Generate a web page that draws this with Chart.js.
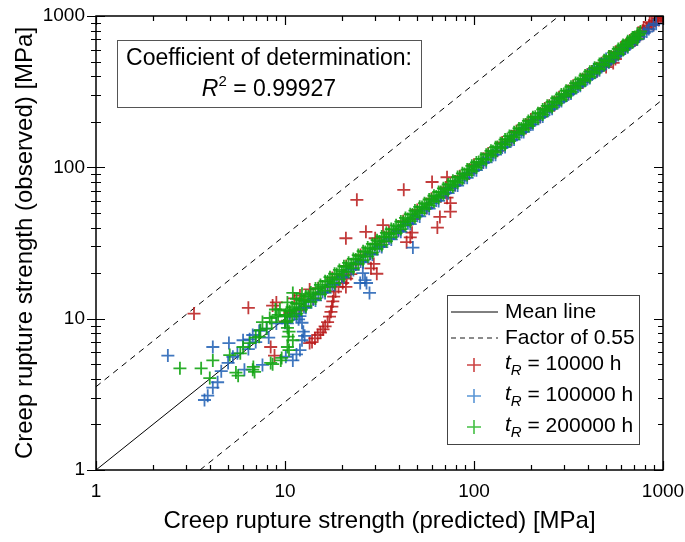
<!DOCTYPE html>
<html>
<head>
<meta charset="utf-8">
<script src="https://cdn.jsdelivr.net/npm/chart.js@4.4.1/dist/chart.umd.min.js"></script>
<style>
  html, body { margin: 0; padding: 0; background: #fff; }
</style>
</head>
<body>
<canvas id="myChart" width="685" height="542"></canvas>
<script>
// axis ticks
const tickValues = [1, 10, 100, 1000];

// reference lines (predicted, observed)
const meanLine = [[1, 1], [1000, 1000]];
const upperFactor = [[1, 3.55], [281.8, 1000]];
const lowerFactor = [[3.55, 1], [1000, 281.8]];

// series labels (rupture time, h)
const seriesTimes = ["10000", "100000", "200000"];

// t_R = 10000 h  [predicted, observed]
const red10000 = [
  [10, 9.6], [10.6, 10.9], [11.2, 13.6], [11.9, 11.3], [12, 14.2], [12.6, 13.2], [13.5, 15.6], [14.1, 13.6],
  [15, 15.9], [16.8, 16.1], [17.8, 18.6], [20, 19.2], [21.1, 22.3], [23.7, 22.8], [25.1, 26.3], [28.2, 27.0],
  [29.9, 31.2], [33.5, 32.3], [35.5, 37.2], [39.8, 38.4], [42.2, 44.1], [47.3, 45.5], [50.1, 52.3], [56.2, 54.0],
  [59.6, 62.0], [66.8, 64.5], [70.8, 73.6], [79.4, 76.6], [84.1, 87.4], [94.4, 91.2], [100, 104], [112, 108],
  [119, 123.5], [133, 128.5], [141, 146], [158, 153], [168, 174], [188, 182], [200, 207], [224, 216],
  [237, 245], [266, 257], [282, 291], [316, 306], [335, 346], [376, 364], [398, 411], [447, 432],
  [473, 488], [531, 514], [562, 580], [631, 612], [668, 688], [708, 690], [750, 772], [794, 780],
  [841, 862], [891, 875], [944, 965], [975, 985], [1000, 1000],
  [560, 545], [600, 590], [640, 650], [700, 715], [740, 730], [780, 800], [820, 830], [870, 890],
  [910, 930], [950, 940], [990, 1000], [720, 700], [660, 650], [600, 620], [520, 510], [480, 470],
  [420, 430], [380, 375], [300, 295], [250, 255],
  [3.3, 10.8], [6.4, 11.8], [9.0, 12.8], [8.6, 12.2], [8.4, 6.5], [8.8, 5.7],
  [13.5, 6.9], [13.9, 7.0], [14.4, 7.4], [14.9, 7.8], [15.4, 8.1], [15.9, 8.5], [16.3, 8.9], [16.8, 9.5],
  [17.2, 10.3], [17.5, 11.1], [17.7, 12.0], [17.9, 13.0], [18.1, 14.0], [18.5, 15.1], [19.2, 16.2], [20.2, 17.2],
  [21.2, 18.4], [22.3, 19.7],
  [21, 16.2], [28.5, 21.5], [30.6, 19.8], [29.5, 23], [21, 34], [24, 61], [26.8, 37.5], [30, 34],
  [33, 41.5], [42.5, 71], [44, 32], [46, 34.5], [47, 37], [60, 80], [64, 40], [66, 47],
  [72, 63], [75, 58], [75, 51], [72, 86],
  [450, 440], [500, 460], [545, 490], [560, 520], [520, 540], [930, 990], [850, 910], [790, 840]
];

// t_R = 100000 h
const blue100000 = [
  [10, 9.4], [10.6, 10.3], [11.2, 10.7], [11.9, 11.6], [12.6, 11.9], [13.3, 12.9], [14.1, 13.4], [15, 14.5],
  [15.8, 15.0], [16.8, 16.3], [17.8, 16.9], [18.8, 18.2], [20, 19.0], [21.1, 20.4], [22.4, 21.3], [23.7, 23.0],
  [25.1, 23.9], [26.6, 25.8], [28.2, 26.9], [29.9, 29.0], [31.6, 30.2], [33.5, 32.5], [35.5, 33.9], [37.6, 36.5],
  [39.8, 38.0], [42.2, 41.0], [44.7, 42.7], [47.3, 46.0], [50.1, 47.9], [53.1, 51.6], [56.2, 53.8], [59.6, 58.0],
  [63.1, 60.4], [66.8, 65.0], [70.8, 67.8], [75, 73], [79.4, 76.1], [84.1, 81.8], [89.1, 85.4], [94.4, 91.9],
  [100, 95.9], [106, 103], [112, 107.5], [119, 116], [126, 120.8], [133, 129.5], [141, 135.4], [150, 146],
  [158, 151.8], [168, 163.5], [178, 171], [188, 183], [200, 192], [211, 205], [224, 215], [237, 230.5],
  [251, 241], [266, 259], [282, 271], [299, 291], [316, 304], [335, 326], [355, 342], [376, 366],
  [398, 383], [422, 411], [447, 431], [473, 461], [501, 483], [531, 518], [562, 542], [596, 581],
  [631, 610], [668, 651], [708, 690], [750, 732], [794, 770], [841, 820], [891, 870],
  [10.3, 9.3], [11.5, 10.4], [12.9, 11.8], [14.5, 13.2], [16.3, 14.8], [18.3, 16.7], [20.5, 18.7], [23, 21],
  [25.9, 23.6], [29, 26.5], [32.5, 29.7], [36.5, 33.4], [41, 37.5], [46, 42.2], [51.6, 47.4], [57.9, 53.3],
  [65, 60], [73, 67.5], [81.9, 75.8], [92, 85.3], [103, 95.8], [116, 108], [130, 121.3], [146, 136.3],
  [163, 152.5], [183, 171.5], [205, 192.5], [231, 217], [259, 244], [290, 274], [326, 308], [365, 346],
  [410, 389], [461, 438], [517, 492], [580, 553], [651, 622], [731, 700], [820, 790], [920, 890],
  [2.4, 5.7], [3.75, 2.9], [3.9, 3.1], [4.15, 3.5], [4.4, 3.8], [4.6, 4.5], [5.0, 5.1], [5.3, 5.6],
  [4.15, 6.5], [5.05, 6.9], [6.0, 7.2], [6.75, 7.8], [7.3, 8.3], [6.1, 4.6], [7.6, 4.95], [5.6, 5.9],
  [6.4, 6.3], [7, 7], [8.0, 8.6], [8.2, 7.5], [9, 9.3], [6.5, 7.3], [7.4, 8.4],
  [10.1, 5.6], [11, 5.3], [11.5, 5.8], [12, 6.2], [12.3, 7.2], [12.5, 8.2], [12.3, 9.4], [12, 10.4],
  [12.7, 7.7], [11.8, 9.9],
  [25.8, 20], [26.5, 18], [27, 17.2], [28, 14.8], [25, 17.2], [47.5, 29.5],
  [470, 480], [500, 520], [520, 500], [430, 445]
];

// t_R = 200000 h
const green200000 = [
  [10, 10.4], [10.6, 11.2], [11.2, 11.5], [11.9, 12.6], [12.6, 13.1], [13.3, 14.0], [14.1, 14.5], [15, 15.8],
  [15.8, 16.3], [16.8, 17.6], [17.8, 18.2], [18.8, 19.7], [20, 20.5], [21.1, 22.0], [22.4, 22.9], [23.7, 24.6],
  [25.1, 25.7], [26.6, 27.6], [28.2, 28.9], [29.9, 30.9], [31.6, 32.3], [33.5, 34.6], [35.5, 36.2], [37.6, 38.8],
  [39.8, 40.6], [42.2, 43.5], [44.7, 45.5], [47.3, 48.7], [50.1, 51.0], [53.1, 54.6], [56.2, 57.2], [59.6, 61.2],
  [63.1, 64.1], [66.8, 68.6], [70.8, 71.9], [75, 77], [79.4, 80.6], [84.1, 86.2], [89.1, 90.4], [94.4, 96.8],
  [100, 101.5], [106, 108.6], [112, 113.6], [119, 121.8], [126, 127.8], [133, 136], [141, 143], [150, 153.4],
  [158, 160.2], [168, 171.6], [178, 180.5], [188, 192], [200, 202.8], [211, 215.5], [224, 227], [237, 242],
  [251, 254.5], [266, 271.5], [282, 285.8], [299, 305], [316, 320], [335, 341.5], [355, 359.5], [376, 383],
  [398, 403], [422, 430], [447, 452], [473, 482], [501, 507], [531, 541], [562, 569], [596, 607],
  [631, 639], [668, 680], [708, 717], [750, 763],
  // lower edge of the band
  [10.3, 9.7], [10.9, 10.3], [11.5, 10.8], [12.2, 11.5], [12.9, 12.1], [13.7, 12.9], [14.5, 13.6], [15.4, 14.5],
  [16.3, 15.3], [17.3, 16.3], [18.3, 17.2], [19.4, 18.2], [20.5, 19.3], [21.7, 20.4], [23, 21.6], [24.4, 23.0],
  [25.9, 24.4], [27.4, 25.8], [29, 27.3], [30.7, 28.9], [32.5, 30.7], [34.4, 32.5], [36.5, 34.6], [38.7, 36.8],
  [41, 39.1], [43.4, 41.5], [46, 44.1], [48.7, 46.8], [51.6, 49.8], [54.7, 52.9], [57.9, 55.9], [61.4, 59.4],
  [65, 62.8], [68.9, 66.6], [73, 70.5], [77.3, 74.8], [81.9, 79.1], [86.8, 84], [92, 88.9], [97.4, 94.2],
  [103, 99.6], [109, 105.5], [116, 112], [123, 119], [130, 125.7], [138, 133.5], [146, 141], [154, 149],
  [163, 157.6], [173, 167.3], [183, 177], [194, 187.6], [205, 198], [218, 211], [231, 223], [244, 236],
  [259, 250], [274, 265], [290, 280], [307, 297], [326, 315], [345, 334], [365, 353], [387, 374],
  [410, 396], [435, 421], [461, 446], [488, 472], [517, 500], [548, 530], [580, 561], [615, 595],
  [651, 630], [690, 668], [731, 707],
  // upper edge of the band
  [10.3, 11.3], [10.9, 11.9], [11.5, 12.6], [12.2, 13.3], [12.9, 14.1], [13.7, 14.9], [14.5, 15.8], [15.4, 16.7],
  [16.3, 17.7], [17.3, 18.8], [18.3, 19.8], [19.4, 21.0], [20.5, 22.2], [21.7, 23.4], [23, 24.8], [24.4, 26.3],
  [25.9, 27.9], [27.4, 29.5], [29, 31.2], [30.7, 33.0], [32.5, 34.9], [34.4, 36.9], [36.5, 39.1], [38.7, 41.4],
  [41, 43.8], [43.4, 46.3], [46, 49.0], [48.7, 51.8], [51.6, 54.8], [54.7, 58.0], [57.9, 61.3], [61.4, 64.9],
  [65, 68.7], [68.9, 72.7], [73, 77.0], [77.3, 81.4], [81.9, 86.2], [86.8, 91.3], [92, 96.7], [97.4, 102.3],
  [103, 107.6], [109, 113.9], [116, 121.2], [123, 128.5], [130, 135.9], [138, 144.2], [146, 152.6], [154, 161],
  [163, 170.3], [173, 180.8], [183, 191.2], [194, 202.7], [205, 214.2], [218, 227.8], [231, 241.4], [244, 255],
  [259, 270.7], [274, 286.3], [290, 303], [307, 320.8], [326, 340.7], [345, 360.5], [365, 381.4], [387, 404.4],
  [410, 428.5], [435, 454.6], [461, 481.7], [488, 510], [517, 540], [548, 572.7], [580, 606], [615, 642.7],
  [651, 680.3], [690, 721], [731, 763.9],
  // low range and hook
  [2.78, 4.7], [3.6, 4.7], [4.15, 5.3], [4.0, 4.05], [5.1, 5.75], [5.8, 5.9], [6.5, 6.9], [5.65, 4.2],
  [6.9, 4.45], [5.5, 4.4], [6.75, 4.6], [6.8, 4.8], [8.4, 5.1], [8.6, 5.0], [9.5, 5.3], [9.6, 5.5],
  [10.3, 6.5], [10.5, 6.2], [10.4, 7.6], [10.3, 8.7], [10.0, 9.5], [10.1, 10.6], [11, 7.2], [10.5, 8.2],
  [7.3, 7.6], [7.6, 9.5], [7.4, 8.4], [8.3, 10.1], [9.2, 10.6], [8, 8.6], [8.5, 9.5], [9, 10.3],
  [6, 6.5], [7, 7.5], [11, 14.8], [9.4, 11.5], [10.3, 12.8], [11.5, 13.5], [12.3, 14.6], [8.9, 11.5],
  [610, 630], [650, 660], [700, 720], [740, 745], [760, 790], [680, 700]
];

const FONT = "'Liberation Sans', Arial, sans-serif";
const toXY = arr => arr.map(p => ({ x: p[0], y: p[1] }));

const markerColors = ["rgba(185,25,25,0.85)", "rgba(30,95,180,0.85)", "rgba(20,165,20,0.9)"];
const legendColors = ["#cc4444", "#5a96d6", "#44c044"];

function lineSet(pts, dash) {
  return {
    data: toXY(pts), showLine: true, borderColor: "#000", borderWidth: 1,
    borderDash: dash, pointRadius: 0, order: 10
  };
}
function pointSet(pts, i) {
  return {
    label: "t_R = " + seriesTimes[i] + " h", data: toXY(pts), pointStyle: "cross",
    pointRadius: 6.5, borderWidth: 1.8, borderColor: markerColors[i],
    backgroundColor: markerColors[i], order: 3 - i
  };
}

const frameAndLegend = {
  id: "frameAndLegend",
  afterDatasetsDraw(chart) {
    const { ctx, chartArea: a, scales: { x, y } } = chart;
    ctx.save();
    ctx.strokeStyle = "#000";
    ctx.lineWidth = 1.5;
    ctx.strokeRect(a.left, a.top, a.right - a.left, a.bottom - a.top);
    // ticks, pointing inside (left axis crosses)
    ctx.lineWidth = 1.2;
    ctx.beginPath();
    [1, 10, 100].forEach(d => {
      for (let m = 1; m <= 10; m++) {
        const v = d * m;
        const major = m === 1 || m === 10;
        const len = major ? 9 : 5;
        const px = Math.round(x.getPixelForValue(v)) + 0.5;
        ctx.moveTo(px, a.bottom); ctx.lineTo(px, a.bottom - len);
        ctx.moveTo(px, a.top); ctx.lineTo(px, a.top + len);
        const py = Math.round(y.getPixelForValue(v)) + 0.5;
        ctx.moveTo(a.left - len, py); ctx.lineTo(a.left + len, py);
        ctx.moveTo(a.right, py); ctx.lineTo(a.right - len, py);
      }
    });
    ctx.stroke();
    ctx.restore();
  },
  afterDraw(chart) {
    const ctx = chart.ctx;
    ctx.save();
    ctx.fillStyle = "#000";
    ctx.textBaseline = "middle";

    // coefficient box
    ctx.strokeStyle = "#555";
    ctx.lineWidth = 1;
    ctx.fillStyle = "#fff";
    ctx.fillRect(117.5, 40.5, 304, 67);
    ctx.strokeRect(117.5, 40.5, 304, 67);
    ctx.fillStyle = "#000";
    ctx.font = "23px " + FONT;
    ctx.textAlign = "center";
    ctx.fillText("Coefficient of determination:", 269, 59);
    ctx.textAlign = "left";
    const rest = " = 0.99927";
    ctx.font = "italic 23px " + FONT;
    const wR = ctx.measureText("R").width;
    ctx.font = "15px " + FONT;
    const w2 = ctx.measureText("2").width;
    ctx.font = "23px " + FONT;
    const wRest = ctx.measureText(rest).width;
    let sx = 269 - (wR + w2 + wRest) / 2;
    ctx.font = "italic 23px " + FONT;
    ctx.fillText("R", sx, 90);
    ctx.font = "15px " + FONT;
    ctx.fillText("2", sx + wR, 82);
    ctx.font = "23px " + FONT;
    ctx.fillText(rest, sx + wR + w2, 90);

    // legend
    ctx.fillStyle = "#fff";
    ctx.fillRect(447.5, 295.5, 192, 149);
    ctx.strokeStyle = "#444";
    ctx.strokeRect(447.5, 295.5, 192, 149);
    ctx.strokeStyle = "#000";
    ctx.beginPath(); ctx.moveTo(451, 312); ctx.lineTo(498, 312); ctx.stroke();
    ctx.strokeStyle = "#666";
    ctx.lineWidth = 1.5;
    ctx.setLineDash([5, 4]);
    ctx.beginPath(); ctx.moveTo(451, 338); ctx.lineTo(498, 338); ctx.stroke();
    ctx.setLineDash([]);
    ctx.fillStyle = "#000";
    ctx.font = "21px " + FONT;
    ctx.fillText("Mean line", 505, 312);
    ctx.fillText("Factor of 0.55", 505, 338);
    const rows = [365, 396, 427];
    seriesTimes.forEach((t, i) => {
      const ry = rows[i];
      ctx.strokeStyle = legendColors[i];
      ctx.lineWidth = 1.6;
      ctx.beginPath();
      ctx.moveTo(467, ry); ctx.lineTo(481, ry);
      ctx.moveTo(474, ry - 7); ctx.lineTo(474, ry + 7);
      ctx.stroke();
      ctx.fillStyle = "#000";
      ctx.font = "italic 21px " + FONT;
      ctx.fillText("t", 505, ry - 2);
      let tx = 505 + ctx.measureText("t").width;
      ctx.font = "italic 15px " + FONT;
      ctx.fillText("R", tx, ry + 6);
      tx += ctx.measureText("R").width;
      ctx.font = "21px " + FONT;
      ctx.fillText(" = " + t + " h", tx, ry - 1);
    });
    ctx.restore();
  }
};

const axisCommon = {
  type: "logarithmic", min: 1, max: 1000,
  grid: { display: false, drawTicks: false },
  border: { display: false },
  afterBuildTicks: s => { s.ticks = tickValues.map(v => ({ value: v })); }
};

const config = {
  type: "scatter",
  data: {
    datasets: [
      pointSet(red10000, 0),
      pointSet(blue100000, 1),
      pointSet(green200000, 2),
      lineSet(meanLine, []),
      lineSet(upperFactor, [6, 5]),
      lineSet(lowerFactor, [6, 5])
    ]
  },
  options: {
    responsive: false,
    animation: false,
    layout: { padding: { top: 16, right: 22, left: 0, bottom: 0 } },
    plugins: { legend: { display: false }, tooltip: { enabled: false } },
    scales: {
      x: {
        ...axisCommon,
        position: "bottom",
        afterFit: s => { s.height = 72; s.paddingLeft = 0; s.paddingRight = 0; },
        ticks: { font: { family: FONT, size: 19 }, color: "#000", padding: 10, maxRotation: 0, autoSkip: false, callback: v => String(v) },
        title: { display: true, text: "Creep rupture strength (predicted) [MPa]", color: "#000", font: { family: FONT, size: 24 }, padding: { top: 0, bottom: 6 } }
      },
      y: {
        ...axisCommon,
        position: "left",
        afterFit: s => { s.width = 96; s.paddingTop = 0; s.paddingBottom = 0; },
        ticks: { font: { family: FONT, size: 19 }, color: "#000", padding: 11, autoSkip: false, callback: v => String(v) },
        title: { display: true, text: "Creep rupture strength (observed) [MPa]", color: "#000", font: { family: FONT, size: 24 }, padding: { top: 11, bottom: 0 } }
      }
    }
  },
  plugins: [frameAndLegend]
};

const myChart = new Chart(document.getElementById("myChart"), config);
</script>
</body>
</html>
